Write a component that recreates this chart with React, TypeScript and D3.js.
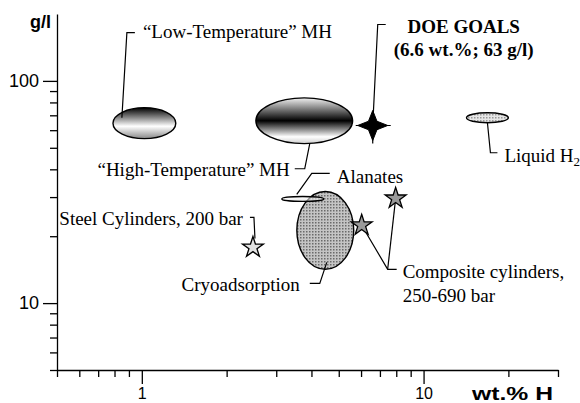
import React, { useEffect, useRef } from 'react';
import * as d3 from 'd3';

const WIDTH = 580;
const HEIGHT = 403;

// storage methods drawn as regions: wt.% H range and g/l range
const regionNames = ['lowMH', 'highMH', 'cryo', 'alanates', 'liquid'];
const regionWtMin = [0.79, 2.54, 3.55, 3.14, 14.2];
const regionWtMax = [1.32, 5.6, 5.65, 4.42, 20.0];
const regionGlMin = [55.0, 52.2, 14.2, 28.7, 64.8];
const regionGlMax = [75.7, 83.9, 31.8, 30.2, 71.9];

// pressure tanks drawn as stars
const tankNames = ['steel', 'composite1', 'composite2'];
const tankWt = [2.48, 6.03, 7.96];
const tankGl = [17.8, 22.4, 29.6];

// DOE target
const goalWt = 6.6;
const goalGl = 63;

const xDomain = [0.5, 30];
const yDomain = [5, 200];
const xMajorTicks = [1, 10];
const xMinorTicks = [0.5, 0.6, 0.7, 0.8, 0.9, 2, 3, 4, 5, 6, 7, 8, 9, 20, 30];
const yMajorTicks = [10, 100];
const yMinorTicks = [5, 6, 7, 8, 9, 20, 30, 40, 50, 60, 70, 80, 90];

const serif = '"Liberation Serif", "Times New Roman", serif';
const sans = '"Liberation Sans", Arial, sans-serif';

const regionFill = {
  lowMH: 'url(#gradLow)',
  highMH: 'url(#gradHigh)',
  cryo: 'url(#dotsDark)',
  alanates: 'url(#gradAlanate)',
  liquid: 'url(#dotsLight)',
};

// leader lines and labels, in pixels relative to each mark's centre
const regionNotes = {
  lowMH: {
    path: [[-22.5, -5.5], [-17.5, -90.5], [-9.5, -90.5]],
    label: { dx: -1.5, dy: -85.5, anchor: 'start', text: '“Low-Temperature” MH' },
  },
  highMH: {
    path: [[5.5, 23], [0.5, 48], [-9.5, 48]],
    label: { dx: -14.5, dy: 55, anchor: 'end', text: '“High-Temperature” MH' },
  },
  alanates: {
    path: [[-6, -4.5], [9, -25.5], [27, -25.5]],
    label: { dx: 34, dy: -15.5, anchor: 'start', text: 'Alanates' },
  },
  cryo: {
    path: [[1.5, 32], [-5.5, 53], [-15.5, 53]],
    label: { dx: -25.5, dy: 61, anchor: 'end', text: 'Cryoadsorption' },
  },
  liquid: {
    path: [[0, 5], [3, 35], [10, 35]],
    label: { dx: 17, dy: 44, anchor: 'start', text: 'Liquid H' },
  },
};

export default function App() {
  const axesRef = useRef(null);

  const x = d3.scaleLog().domain(xDomain).range([57, 558]);
  const y = d3.scaleLog().domain(yDomain).range([370, 14]);

  useEffect(() => {
    const g = d3.select(axesRef.current);
    g.selectAll('*').remove();

    const xa = g.append('g').attr('transform', `translate(0,${y(yDomain[0])})`);
    xa.append('g').call(
      d3.axisBottom(x).tickValues(xMinorTicks).tickSize(7).tickSizeOuter(0).tickFormat(() => ''),
    );
    xa.append('g')
      .call(d3.axisBottom(x).tickValues(xMajorTicks).tickSize(14).tickPadding(4).tickFormat(d3.format('d')))
      .call((s) => s.select('.domain').remove());

    const ya = g.append('g').attr('transform', `translate(${x(xDomain[0])},0)`);
    ya.append('g').call(
      d3.axisLeft(y).tickValues(yMinorTicks).tickSize(7).tickSizeOuter(0).tickFormat(() => ''),
    );
    ya.append('g')
      .call(d3.axisLeft(y).tickValues(yMajorTicks).tickSize(14).tickPadding(4).tickFormat(d3.format('d')))
      .call((s) => s.select('.domain').remove());

    g.selectAll('line, path').attr('stroke', '#000').attr('stroke-width', 1.3);
    xa.selectAll('text').attr('font-family', sans).attr('font-size', 16).attr('fill', '#000');
    ya.selectAll('text').attr('font-family', sans).attr('font-size', 18).attr('fill', '#000');
  }, []);

  const line = d3.line();
  const star5 = d3.symbol(d3.symbolStar, 136)();
  const star4 = d3
    .lineRadial()
    .curve(d3.curveLinearClosed)(d3.range(8).map((i) => [(i * Math.PI) / 4, i % 2 === 0 ? 15 : 6]));

  const regions = regionNames.map((name, i) => {
    const x0 = x(regionWtMin[i]);
    const x1 = x(regionWtMax[i]);
    const y0 = y(regionGlMax[i]);
    const y1 = y(regionGlMin[i]);
    return { name, cx: (x0 + x1) / 2, cy: (y0 + y1) / 2, rx: (x1 - x0) / 2, ry: (y1 - y0) / 2 };
  });

  const tanks = tankNames.map((name, i) => ({ name, px: x(tankWt[i]), py: y(tankGl[i]) }));
  const gx = x(goalWt);
  const gy = y(goalGl);
  const [steel, comp1, comp2] = tanks;
  const join = [comp1.px + 26, comp1.py + 44];

  return (
    <svg width={WIDTH} height={HEIGHT} style={{ position: 'absolute', left: 0, top: 0, background: '#fff' }}>
      <defs>
        <linearGradient id="gradLow" x1="0" y1="0" x2="0" y2="1">
          <stop offset="0" stopColor="#000" />
          <stop offset="0.6" stopColor="#fff" />
          <stop offset="1" stopColor="#888" />
        </linearGradient>
        <linearGradient id="gradHigh" x1="0" y1="0" x2="0" y2="1">
          <stop offset="0" stopColor="#f2f2f2" />
          <stop offset="0.5" stopColor="#000" />
          <stop offset="0.85" stopColor="#fff" />
          <stop offset="1" stopColor="#ccc" />
        </linearGradient>
        <linearGradient id="gradAlanate" x1="0" y1="0" x2="0" y2="1">
          <stop offset="0" stopColor="#fff" stopOpacity="0.6" />
          <stop offset="1" stopColor="#ddd" stopOpacity="0.6" />
        </linearGradient>
        <pattern id="dotsDark" width="3" height="3" patternUnits="userSpaceOnUse">
          <rect width="3" height="3" fill="#c4c4c4" />
          <rect width="1.5" height="1.5" fill="#6a6a6a" />
        </pattern>
        <pattern id="dotsLight" width="3" height="3" patternUnits="userSpaceOnUse">
          <rect width="3" height="3" fill="#e6e6e6" />
          <rect width="1.5" height="1.5" fill="#999" />
        </pattern>
      </defs>

      <g ref={axesRef} />

      <text x={51} y={28} textAnchor="end" fontFamily={sans} fontWeight="bold" fontSize={18}>
        g/l
      </text>
      <text
        x={472}
        y={400}
        fontFamily={sans}
        fontWeight="bold"
        fontSize={18}
        textLength={81}
        lengthAdjust="spacingAndGlyphs"
      >
        wt.% H
      </text>

      {regions.map((r) => (
        <ellipse
          key={r.name}
          cx={r.cx}
          cy={r.cy}
          rx={r.rx}
          ry={r.ry}
          fill={regionFill[r.name]}
          stroke="#000"
          strokeWidth={1.4}
        />
      ))}

      <g fill="none" stroke="#000" strokeWidth={1.2}>
        {regions.map((r) => (
          <path key={r.name} d={line(regionNotes[r.name].path.map(([dx, dy]) => [r.cx + dx, r.cy + dy]))} />
        ))}
        <path d={line([[steel.px + 2, steel.py - 9], [steel.px + 1, steel.py - 30], [steel.px - 3, steel.py - 30]])} />
        <path d={line([[comp1.px, comp1.py], join, [join[0] + 9, join[1]]])} />
        <path d={line([[comp2.px, comp2.py], join])} />
        <path d={line([[gx, gy + 18], [gx, gy], [gx + 5, gy - 101], [gx + 13, gy - 101]])} />
        <path d={line([[gx - 17, gy], [gx + 18, gy]])} />
      </g>

      <g fontFamily={serif} fontSize={19} fill="#000">
        {regions.map((r) => {
          const l = regionNotes[r.name].label;
          return (
            <text key={r.name} x={r.cx + l.dx} y={r.cy + l.dy} textAnchor={l.anchor}>
              {l.text}
              {r.name === 'liquid' ? (
                <tspan fontSize={13} dy={4}>
                  2
                </tspan>
              ) : null}
            </text>
          );
        })}
        <text x={steel.px - 10} y={steel.py - 22} textAnchor="end">
          Steel Cylinders, 200 bar
        </text>
        <text x={comp1.px + 41} y={comp1.py + 53}>
          Composite cylinders,
        </text>
        <text x={comp1.px + 41} y={comp1.py + 77}>
          250-690 bar
        </text>
        <g fontWeight="bold" textAnchor="middle">
          <text x={gx + 91} y={gy - 92}>
            DOE GOALS
          </text>
          <text x={gx + 91} y={gy - 69}>
            (6.6 wt.%; 63 g/l)
          </text>
        </g>
      </g>

      {tanks.map((t) => (
        <path
          key={t.name}
          d={star5}
          transform={`translate(${t.px},${t.py})`}
          fill={t.name === 'steel' ? '#e2e2e2' : '#9a9a9a'}
          stroke="#000"
          strokeWidth={1.3}
        />
      ))}
      <path d={star4} transform={`translate(${gx},${gy})`} fill="#000" stroke="#000" strokeWidth={1} />
    </svg>
  );
}
